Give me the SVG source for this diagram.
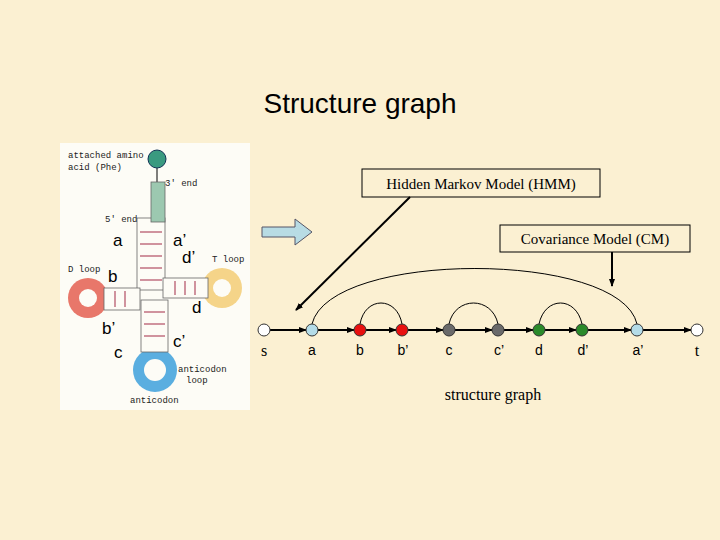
<svg xmlns="http://www.w3.org/2000/svg" width="720" height="540" viewBox="0 0 720 540">
<style>
.t{font-family:"Liberation Sans",Arial,sans-serif;fill:#000}
.s{font-family:"Liberation Serif","Times New Roman",serif;fill:#000}
.sm{font-family:"Liberation Mono",monospace;font-size:9px;fill:#222}
.e{stroke:#000;stroke-width:2;fill:none}
.arc{stroke:#000;stroke-width:1;fill:none}
.n{stroke:#333;stroke-width:1}
.bb{fill:#fdfcf6;stroke:#666;stroke-width:0.8}
.bp{stroke:#c07080;stroke-width:1.5}
</style>
<defs>
<marker id="ah" markerWidth="8" markerHeight="8" refX="7" refY="4" orient="auto" markerUnits="userSpaceOnUse"><path d="M0,1 L8,4 L0,7 Z" fill="#000"/></marker>
</defs>
<rect width="720" height="540" fill="#fbf0d2"/>
<text class="t" x="360" y="113" font-size="28" text-anchor="middle">Structure graph</text>
<g id="trna">
<rect x="60" y="143" width="190" height="267" fill="#fdfcf6"/>
<text class="sm" x="68" y="158">attached amino</text>
<text class="sm" x="68" y="170">acid (Phe)</text>
<line x1="157" y1="168" x2="157" y2="182" stroke="#000"/>
<circle cx="157" cy="159" r="9" fill="#3a9a80" stroke="#135"/>
<circle cx="88" cy="298" r="20" fill="#e8776a"/><circle cx="88" cy="298" r="9" fill="#fdfcf6"/>
<circle cx="222" cy="288" r="20" fill="#f5d489"/><circle cx="222" cy="288" r="9" fill="#fdfcf6"/>
<circle cx="155" cy="370" r="22" fill="#5aaee0"/><circle cx="155" cy="370" r="11" fill="#fdfcf6"/>
<rect class="bb" x="137" y="218" width="28" height="72"/>
<rect x="151" y="182" width="14" height="40" fill="#9cc8b0" stroke="#666" stroke-width="0.8"/>
<rect class="bb" x="104" y="288" width="36" height="22"/>
<rect class="bb" x="163" y="278" width="45" height="20"/>
<rect class="bb" x="141" y="300" width="27" height="52"/>
<g class="bp">
<line x1="140" y1="232" x2="162" y2="232"/><line x1="140" y1="244" x2="162" y2="244"/><line x1="140" y1="256" x2="162" y2="256"/><line x1="140" y1="268" x2="162" y2="268"/><line x1="140" y1="280" x2="162" y2="280"/>
<line x1="115" y1="291" x2="115" y2="307"/><line x1="125" y1="291" x2="125" y2="307"/>
<line x1="175" y1="281" x2="175" y2="295"/><line x1="185" y1="281" x2="185" y2="295"/><line x1="195" y1="281" x2="195" y2="295"/>
<line x1="144" y1="312" x2="165" y2="312"/><line x1="144" y1="324" x2="165" y2="324"/><line x1="144" y1="336" x2="165" y2="336"/>
</g>
<text class="sm" x="165" y="186">3' end</text>
<text class="sm" x="105" y="222">5' end</text>
<text class="sm" x="68" y="272">D loop</text>
<text class="sm" x="212" y="262">T loop</text>
<text class="sm" x="178" y="372">anticodon</text>
<text class="sm" x="186" y="383">loop</text>
<text class="sm" x="130" y="403">anticodon</text>
<text class="t" x="113" y="246" font-size="17">a</text>
<text class="t" x="173" y="246" font-size="17">a’</text>
<text class="t" x="182" y="263" font-size="17">d’</text>
<text class="t" x="108" y="282" font-size="17">b</text>
<text class="t" x="192" y="313" font-size="17">d</text>
<text class="t" x="102" y="334" font-size="17">b’</text>
<text class="t" x="114" y="358" font-size="17">c</text>
<text class="t" x="173" y="347" font-size="17">c’</text>
</g>
<g id="bigarrow"><path d="M262,227 H295 V219 L312,232 L295,245 V237 H262 Z" fill="#b8dce4" stroke="#556" stroke-width="1"/></g>
<g id="hmm"><rect x="362" y="169" width="238" height="28" fill="#fbf0d2" stroke="#000"/><text class="s" x="481" y="189" font-size="15" text-anchor="middle">Hidden Markov Model (HMM)</text></g>
<g id="cm"><rect x="500" y="225" width="190" height="27" fill="#fbf0d2" stroke="#000"/><text class="s" x="595" y="244" font-size="15" text-anchor="middle">Covariance Model (CM)</text></g>
<g id="connectors">
<line class="e" x1="410" y1="197" x2="296" y2="310" marker-end="url(#ah)"/>
<line class="e" x1="612" y1="252" x2="612" y2="286" marker-end="url(#ah)"/>
<line class="e" x1="270" y1="330" x2="306" y2="330" marker-end="url(#ah)"/>
<line class="e" x1="318" y1="330" x2="354" y2="330" marker-end="url(#ah)"/>
<line class="e" x1="366" y1="330" x2="396" y2="330" marker-end="url(#ah)"/>
<line class="e" x1="408" y1="330" x2="443" y2="330" marker-end="url(#ah)"/>
<line class="e" x1="455" y1="330" x2="492" y2="330" marker-end="url(#ah)"/>
<line class="e" x1="504" y1="330" x2="533" y2="330" marker-end="url(#ah)"/>
<line class="e" x1="545" y1="330" x2="576" y2="330" marker-end="url(#ah)"/>
<line class="e" x1="588" y1="330" x2="631" y2="330" marker-end="url(#ah)"/>
<line class="e" x1="643" y1="330" x2="691" y2="330" marker-end="url(#ah)"/>
<path class="arc" d="M312,324 C330,250 620,250 637,324"/>
<path class="arc" d="M360,324 C365,296 397,296 402,324"/>
<path class="arc" d="M449,324 C455,296 492,296 498,324"/>
<path class="arc" d="M539,324 C545,296 576,296 582,324"/>
</g>
<g id="nodes">
<circle class="n" cx="264" cy="330" r="6" fill="#fff"/>
<circle class="n" cx="312" cy="330" r="6" fill="#b4dce8"/>
<circle class="n" cx="360" cy="330" r="6" fill="#e81010"/>
<circle class="n" cx="402" cy="330" r="6" fill="#e81010"/>
<circle class="n" cx="449" cy="330" r="6" fill="#6a6a6a"/>
<circle class="n" cx="498" cy="330" r="6" fill="#6a6a6a"/>
<circle class="n" cx="539" cy="330" r="6" fill="#2a8a2a"/>
<circle class="n" cx="582" cy="330" r="6" fill="#2a8a2a"/>
<circle class="n" cx="637" cy="330" r="6" fill="#b4dce8"/>
<circle class="n" cx="697" cy="330" r="6" fill="#fff"/>
</g>
<g id="labels" font-size="14">
<text class="s" x="264" y="356" font-size="16" text-anchor="middle">s</text>
<text class="t" x="312" y="355" text-anchor="middle">a</text>
<text class="t" x="360" y="355" text-anchor="middle">b</text>
<text class="t" x="403" y="355" text-anchor="middle">b’</text>
<text class="t" x="449" y="355" text-anchor="middle">c</text>
<text class="t" x="499" y="355" text-anchor="middle">c’</text>
<text class="t" x="539" y="355" text-anchor="middle">d</text>
<text class="t" x="583" y="355" text-anchor="middle">d’</text>
<text class="t" x="638" y="355" text-anchor="middle">a’</text>
<text class="s" x="697" y="356" font-size="16" text-anchor="middle">t</text>
<text class="s" x="493" y="400" font-size="16" text-anchor="middle">structure graph</text>
</g>
</svg>
